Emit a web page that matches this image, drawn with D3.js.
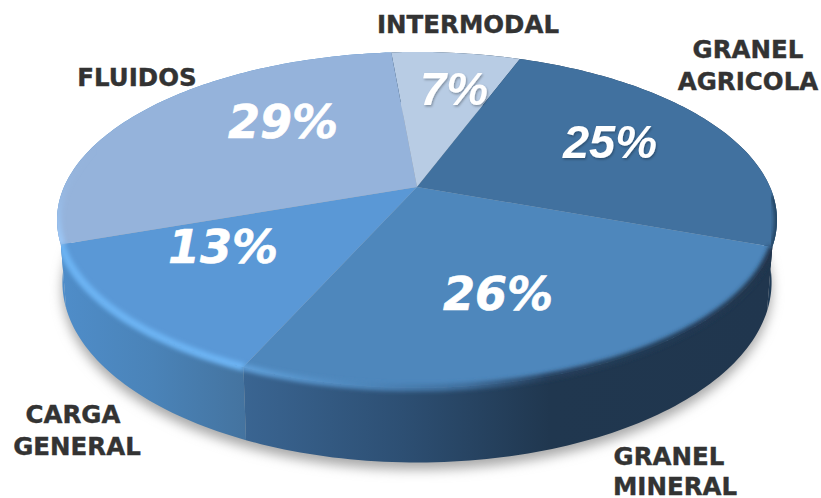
<!DOCTYPE html>
<html>
<head>
<meta charset="utf-8">
<script src="https://cdn.jsdelivr.net/npm/d3@7"></script>
<style>
  html, body { margin: 0; padding: 0; background: #fff; }
  svg { display: block; }
</style>
</head>
<body>
<svg id="chart" width="821" height="498"></svg>
<script>
// the data
var categories = ["INTERMODAL", "GRANEL AGRICOLA", "GRANEL MINERAL", "CARGA GENERAL", "FLUIDOS"];
var shares = [7, 25, 26, 13, 29];

// slice colours, top face and side wall
var topColors = ["#b8cce4", "#41719f", "#4e87bc", "#5a98d6", "#95b3db"];
var wallStops = [
  [[0, "#1f3a55"], [1, "#1f3a55"]],
  [[0, "#1f3a55"], [1, "#1f3a55"]],
  [[0, "#3a6592"], [0.3, "#2d4f73"], [0.58, "#20374f"], [1, "#20364e"]],
  [[0, "#4f8dc9"], [0.5, "#4a83b8"], [1, "#44739f"]],
  [[0, "#4f8dc9"], [1, "#4f8dc9"]]
];

// where the text goes, one row per line of label
var nameLines = [
  {i: 0, text: "INTERMODAL", x: 468, y: 33},
  {i: 1, text: "GRANEL", x: 748, y: 58},
  {i: 1, text: "AGRICOLA", x: 748, y: 90},
  {i: 2, text: "GRANEL", x: 669, y: 465},
  {i: 2, text: "MINERAL", x: 675, y: 495},
  {i: 3, text: "CARGA", x: 73, y: 423},
  {i: 3, text: "GENERAL", x: 77, y: 455},
  {i: 4, text: "FLUIDOS", x: 137, y: 86}
];
var pctPos = [
  {x: 454, y: 105, arial: true},
  {x: 610, y: 158, arial: true},
  {x: 498, y: 310, arial: false},
  {x: 223, y: 263, arial: false},
  {x: 283, y: 138, arial: false}
];

var svg = d3.select("#chart");
var defs = svg.append("defs");

// perspective of the disc: u is left/right, v is back/front
var cx = 417, cy = 187, ax = 353, ay = 161.5, persp = 0.196, drop = 60;

function project(angle, r, z) {
  var u = Math.sin(angle) * r, v = -Math.cos(angle) * r;
  var w = 1 - persp * v;
  var shrink = z ? 0.985 : 1;
  return [cx + ax * u / w * shrink, cy + ay * v / w + (z ? drop / w : 0)];
}

var pie = d3.pie().sort(null)
  .startAngle(-5 * Math.PI / 180)
  .endAngle(355 * Math.PI / 180);
var slices = pie(shares);

var line = d3.line();

function arcPoints(a0, a1, z) {
  var n = Math.max(2, Math.ceil((a1 - a0) / 0.02));
  return d3.range(n + 1).map(function(k) {
    return project(a0 + (a1 - a0) * k / n, 1, z);
  });
}

function blur(id, dev) {
  defs.append("filter").attr("id", id)
      .attr("x", "-20%").attr("y", "-20%").attr("width", "140%").attr("height", "140%")
    .append("feGaussianBlur").attr("stdDeviation", dev);
}
blur("soft1", 2);
blur("soft2", 2.2);
blur("soft3", 6);

// soft shadow under the pie
svg.append("path")
    .attr("d", line(arcPoints(0, 2 * Math.PI, true)) + "Z")
    .attr("transform", "translate(0,7)")
    .attr("fill", "#a8a8a8")
    .attr("filter", "url(#soft3)");

// side wall gradients
slices.forEach(function(d, i) {
  var g = defs.append("linearGradient").attr("id", "wall" + i);
  wallStops[i].forEach(function(s) {
    g.append("stop").attr("offset", s[0]).attr("stop-color", s[1]);
  });
});

// side walls
var wall = svg.append("g");
slices.forEach(function(d, i) {
  var top = arcPoints(d.startAngle, d.endAngle, false);
  var bottom = arcPoints(d.startAngle, d.endAngle, true).reverse();
  wall.append("path")
      .attr("d", line(top.concat(bottom)) + "Z")
      .attr("fill", "url(#wall" + i + ")");
});

// everything on the pie body, used to keep the bevel inside it
var clip = defs.append("clipPath").attr("id", "body");
clip.append("path").attr("d", line(arcPoints(0, 2 * Math.PI, false)) + "Z");
slices.forEach(function(d) {
  clip.append("path").attr("d", line(
    arcPoints(d.startAngle, d.endAngle, false).concat(arcPoints(d.startAngle, d.endAngle, true).reverse())
  ) + "Z");
});

// top face
svg.append("g").selectAll("path")
  .data(slices)
  .enter().append("path")
    .attr("d", function(d) {
      return line([[cx, cy]].concat(arcPoints(d.startAngle, d.endAngle, false))) + "Z";
    })
    .attr("fill", function(d, i) { return topColors[i]; });

// bevel along the rim
var x0 = project(slices[2].startAngle, 1)[0];
var x1 = project(slices[2].endAngle, 1)[0];
var x2 = project(slices[2].startAngle, 1)[0];
var mineralRim = defs.append("linearGradient").attr("id", "rimMineral")
    .attr("gradientUnits", "userSpaceOnUse")
    .attr("x1", x1).attr("x2", x2)
    .attr("y1", 0).attr("y2", 0);
[[0, "#5f9fd9"], [0.22, "#4e87bc"], [0.42, "#3f6e9c"], [0.58, "#263f5c"], [1, "#20364e"]].forEach(function(s) {
  mineralRim.append("stop").attr("offset", s[0]).attr("stop-color", s[1]);
});

var fluidRim = defs.append("linearGradient").attr("id", "rimFluid")
    .attr("gradientUnits", "userSpaceOnUse")
    .attr("x1", 0).attr("x2", 0)
    .attr("y1", project(slices[4].startAngle, 1)[1])
    .attr("y2", project(slices[4].startAngle + 0.6, 1)[1]);
fluidRim.append("stop").attr("offset", 0).attr("stop-color", "#9cc8f8");
fluidRim.append("stop").attr("offset", 1).attr("stop-color", "#95b3db").attr("stop-opacity", 0);

var bevel = svg.append("g").attr("clip-path", "url(#body)");
function rim(i, stroke, width, filter, a0, a1) {
  bevel.append("path")
      .attr("d", line(arcPoints(a0 === undefined ? slices[i].startAngle : a0, a1 === undefined ? slices[i].endAngle : a1, false)))
      .attr("fill", "none")
      .attr("stroke", stroke)
      .attr("stroke-width", width)
      .attr("filter", filter);
}
rim(1, "#1f3a55", 5, "url(#soft2)", slices[1].endAngle - 0.3, slices[1].endAngle);
rim(2, "url(#rimMineral)", 7, "url(#soft2)");
rim(3, "#6cb3f3", 8, "url(#soft1)");
rim(4, "url(#rimFluid)", 9, "url(#soft1)", slices[4].startAngle, slices[4].startAngle + 0.6);

// percentages
var shadow = defs.append("filter").attr("id", "textShadow")
    .attr("x", "-10%").attr("y", "-10%").attr("width", "125%").attr("height", "130%");
shadow.append("feDropShadow")
    .attr("dx", 1).attr("dy", 1.5).attr("stdDeviation", 1)
    .attr("flood-color", "#000").attr("flood-opacity", 0.3);

svg.append("g").selectAll("text")
  .data(shares)
  .enter().append("text")
    .attr("x", function(d, i) { return pctPos[i].x; })
    .attr("y", function(d, i) { return pctPos[i].y; })
    .attr("text-anchor", "middle")
    .attr("fill", "#fff")
    .attr("stroke", function(d, i) { return pctPos[i].arial ? "none" : "#fff"; })
    .attr("stroke-width", 0.6)
    .attr("font-weight", "bold")
    .attr("font-style", "italic")
    .attr("font-family", function(d, i) {
      return pctPos[i].arial ? "'Liberation Sans', sans-serif" : "'DejaVu Sans', sans-serif";
    })
    .attr("font-size", function(d, i) { return pctPos[i].arial ? 47 : 46; })
    .attr("filter", function(d, i) { return pctPos[i].arial ? "url(#textShadow)" : null; })
    .text(function(d) { return d + "%"; });

// category names
svg.append("g").selectAll("text")
  .data(nameLines)
  .enter().append("text")
    .attr("x", function(d) { return d.x; })
    .attr("y", function(d) { return d.y; })
    .attr("text-anchor", "middle")
    .attr("fill", "#333")
    .attr("stroke", "#333")
    .attr("stroke-width", 0.4)
    .attr("font-family", "'DejaVu Sans', sans-serif")
    .attr("font-weight", "bold")
    .attr("font-size", 24.5)
    .text(function(d) { return d.text; });
</script>
</body>
</html>
